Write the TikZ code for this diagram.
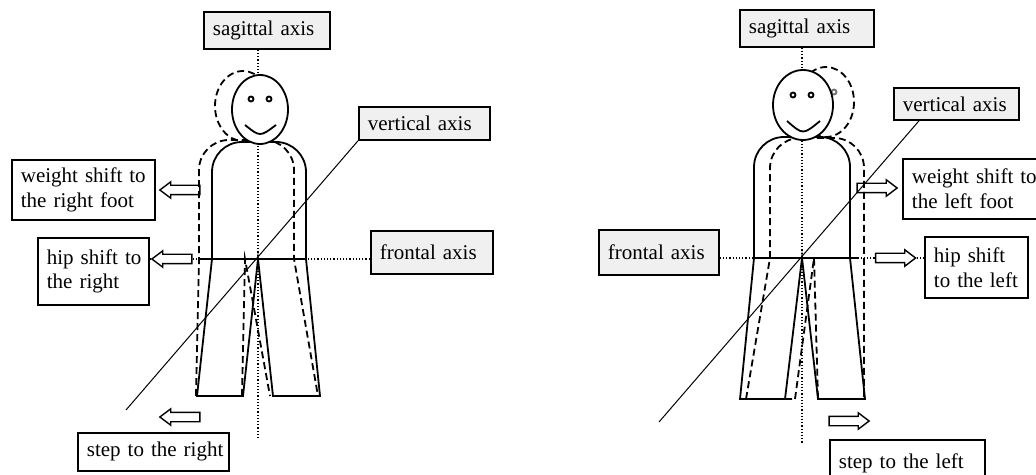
\documentclass[tikz,border=0pt]{standalone}
\usepackage{fontspec}
\setmainfont{Liberation Serif}
\usetikzlibrary{shapes.arrows}
\tikzstyle{tag}=[draw, line width=0.9pt, fill=white, anchor=north west, align=left, inner xsep=4.5pt, inner ysep=0pt]
\tikzstyle{axistag}=[tag, fill=black!6]
\tikzstyle{shiftarrow}=[draw, fill=white, single arrow, line width=0.7pt, minimum height=20pt, inner xsep=0pt, inner ysep=2pt, single arrow head extend=1.75pt, single arrow tip angle=74]
\tikzstyle{axisline}=[densely dotted, line width=0.6pt]
\tikzstyle{body}=[line width=0.9pt]
\tikzstyle{shifted}=[line width=0.9pt, dash pattern=on 3.5pt off 2pt]
\tikzstyle{hipline}=[line width=1.4pt]

\begin{document}
\begin{tikzpicture}[x=0.5pt,y=-0.5pt,font=\fontsize{10.5}{12.4}\selectfont]
		    \useasboundingbox (0,0) rectangle (1036,475);
		    % weight shift to the right
		    \node [axistag, minimum width=63pt, minimum height=18.5pt, text width=54pt] (sag1) at (203,11) {sagittal~axis};
		    \node [axistag, minimum width=65.5pt, minimum height=16.5pt, text width=56.5pt] (vert1) at (358,106) {vertical~axis};
		    \node [axistag, minimum width=61pt, minimum height=21.5pt, text width=52pt] (front1) at (370,230) {frontal~axis};
		    \node [tag, minimum width=71.5pt, minimum height=30pt, text width=62.5pt] (weight1) at (11,159) {weight~shift~to\\the~right~foot};
		    \node [tag, minimum width=55.5pt, minimum height=33.5pt, text width=46.5pt] (hip1) at (37,237) {hip~shift~to\\the~right};
		    \node [tag, minimum width=75.5pt, minimum height=19pt, text width=66.5pt] (step1) at (77,432) {step~to~the~right};
		    \coordinate (c1) at (258,259);
		    \coordinate (foot1) at (258,440);
		    \coordinate (d1) at (126,410);
		    \node [shiftarrow, shape border rotate=180] (w1) at (183,190) {};
		    \node [shiftarrow, shape border rotate=180] (h1) at (175,259) {};
		    \node [shiftarrow, shape border rotate=180] (s1) at (183,417) {};
		    \draw [axisline] (sag1.south -| foot1) -- (foot1);
		    \draw [axisline] (h1.tail) -- (front1.west |- c1);
		    \draw [axisline] (hip1.east |- c1) -- (h1.tip);
		    \draw [line width=0.5pt] (d1) -- (vert1.south west);
		    \draw [shifted] (243,106) ellipse [x radius=28, y radius=35];
		    \draw [shifted] (196,396) -- (199,259) [rounded corners=15pt] -- (199,140) -- (294,140) [sharp corners] -- (294,259) -- (318,396);
		    \draw [shifted] (242,396) -- (245,259) -- (270,396);
		    \draw [body, rounded corners=15pt] (212,259) -- (212,142) -- (306,142) -- (306,259);
		    \draw [body] (212,259) -- (197,396) -- (243,396) -- (c1) -- (273,396) -- (320,396) -- (306,259);
		    \draw [body, fill=white] (260,109.5) ellipse [x radius=28, y radius=34.5];
		    \draw [body] (251,99) circle [radius=2.5] (269,99) circle [radius=2.5];
		    \draw [body] (245,125) .. controls (260,137) .. (276,125);
		    \draw [hipline] (200,259) -- (306,259);

		    % weight shift to the left
		    \node [axistag, minimum width=67pt, minimum height=18.5pt, text width=58pt] (sag2) at (739,9) {sagittal~axis};
		    \node [axistag, minimum width=62.5pt, minimum height=16pt, text width=53.5pt] (vert2) at (893,87) {vertical~axis};
		    \node [axistag, minimum width=60pt, minimum height=22.5pt, text width=51pt] (front2) at (598,229) {frontal~axis};
		    \node [tag, minimum width=71pt, minimum height=30pt, text width=62pt] (weight2) at (902,158) {weight~shift~to\\the~left~foot};
		    \node [tag, minimum width=51.5pt, minimum height=30.5pt, text width=42.5pt] (hip2) at (924,236) {hip~shift\\to~the~left};
		    \node [tag, minimum width=77.5pt, minimum height=23pt, text width=68.5pt] (step2) at (829,439) {step~to~the~left};
		    \coordinate (c2) at (802,258);
		    \coordinate (foot2) at (802,444);
		    \coordinate (d2) at (659,422);
		    \node [shiftarrow] (w2) at (874,188) {};
		    \node [shiftarrow] (h2) at (892.5,258) {};
		    \node [shiftarrow] (s2) at (846,421) {};
		    \draw [axisline] (sag2.south -| foot2) -- (foot2);
		    \draw [axisline] (front2.east |- c2) -- (h2.tail);
		    \draw [axisline] (h2.tip) -- (hip2.west |- c2);
		    \draw [line width=0.5pt] (d2) -- ([xshift=13pt]vert2.south west);
		    \draw [shifted] (826,102) ellipse [x radius=28, y radius=35];
		    \draw [black!55, line width=0.9pt] (834,92) circle [radius=2.5];
		    \draw [shifted] (746,399) -- (770,258) [rounded corners=15pt] -- (770,138) -- (864,138) [sharp corners] -- (864,258) -- (864,399);
		    \draw [shifted] (795,399) -- (814,258) -- (818,399);
		    \draw [body, rounded corners=15pt] (754,258) -- (754,137) -- (850,137) -- (850,258);
		    \draw [body] (754,258) -- (740,399) -- (792,399);
		    \draw [body] (785,399) -- (c2) -- (818,399) -- (865,399) -- (850,258);
		    \draw [body, fill=white] (803,105) ellipse [x radius=30, y radius=35];
		    \draw [body] (793,95) circle [radius=2.5] (811,95) circle [radius=2.5];
		    \draw [body] (787,121) .. controls (803,135) .. (820,121);
		    \draw [hipline] (754,258) -- (858,258);
\end{tikzpicture}
\end{document}
